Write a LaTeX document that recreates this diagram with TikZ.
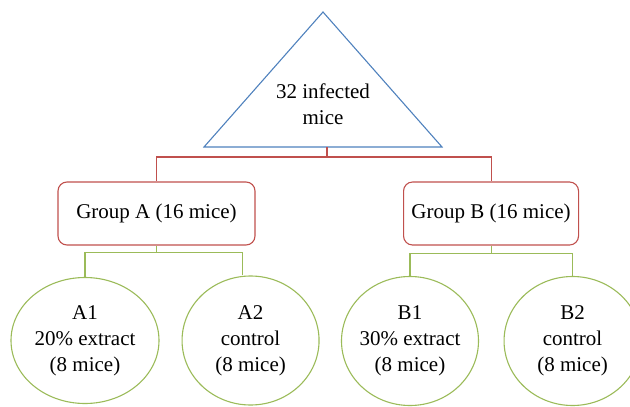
\documentclass[tikz,border=0pt]{standalone}
\usepackage{fontspec}
\setmainfont{Liberation Serif}
\usetikzlibrary{shapes.geometric}
\definecolor{triblue}{RGB}{79,129,189}
\definecolor{boxred}{RGB}{192,80,77}
\definecolor{leafgreen}{RGB}{155,187,89}

\begin{document}
\begin{tikzpicture}[x=1pt,y=-1pt,line width=1.1pt,
	every node/.style={font=\fontsize{21}{26}\selectfont,align=center},
	groupbox/.style={draw=boxred,rounded corners=9pt,minimum height=63pt,inner sep=0pt},
	subgroup/.style={draw=leafgreen,ellipse,inner sep=-6pt,minimum width=137pt,minimum height=129pt}]
	\useasboundingbox (0,0) rectangle (630,407);
	\draw [triblue] (323,12) -- (442,147) -- (204,147) -- cycle;
	\node (total) at (323,104) {32 infected\\mice};
	\coordinate (base) at (327,147);
	\coordinate (split) at (327,157);
	\node [groupbox,minimum width=197pt] (groupA) at (156.5,213.5) {Group A (16 mice)};
	\node [groupbox,minimum width=175pt] (groupB) at ([xshift=235.5pt]groupA.east) {Group B (16 mice)};
	\node [subgroup,minimum width=148pt,minimum height=126pt] (a1) at (85,340.5) {A1\\20\% extract\\(8 mice)};
	\node [subgroup] (a2) at ([xshift=91pt]a1.east) {A2\\control\\(8 mice)};
	\node [subgroup] (b1) at (410,341) {B1\\30\% extract\\(8 mice)};
	\node [subgroup] (b2) at ([xshift=93.5pt]b1.east) {B2\\control\\(8 mice)};
	\draw [boxred] (base) -- (split) -| (groupA.north);
	\draw [boxred] (split) -| (groupB.north);
	\draw [leafgreen] (groupA.south) -- ++(0,7) coordinate (splitA) -| (a1.north);
	\draw [leafgreen] (splitA) -| ([xshift=-8pt]a2.north);
	\draw [leafgreen] (groupB.south) -- ++(0,8) coordinate (splitB) -| (b1.north);
	\draw [leafgreen] (splitB) -| (b2.north);
\end{tikzpicture}
\end{document}
